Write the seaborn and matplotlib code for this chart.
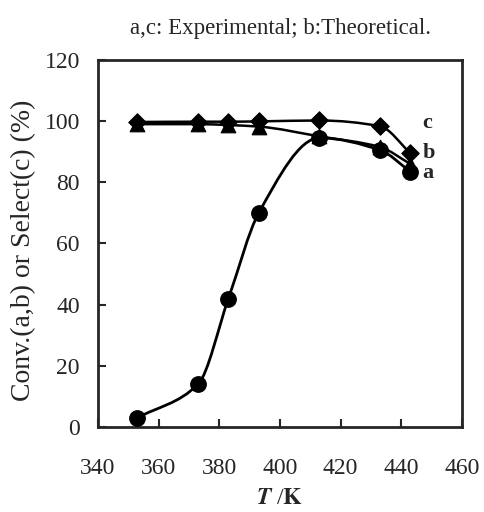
import numpy as np
import matplotlib
matplotlib.use("Agg")
import matplotlib.pyplot as plt
from matplotlib.path import Path
from matplotlib.patches import PathPatch
import seaborn as sns

# data
temp = [353, 373, 383, 393, 413, 433, 443]
conv_a = [3, 14, 42, 70, 94.5, 90.5, 83.5]      # experimental conversion
conv_b = [99, 99, 98.7, 98.2, 95, 91.5, 86]     # theoretical conversion
select_c = [99.7, 99.8, 99.8, 99.9, 100.2, 98.3, 89.5]  # experimental selectivity

curve_labels = ["a", "b", "c"]
label_x = 447
label_y = [83, 89.5, 99.5]

sns.set_style("ticks")
plt.rcParams['font.family'] = ['Liberation Serif', 'DejaVu Serif']
plt.rcParams['mathtext.fontset'] = 'stix'


def smooth_path(x, y):
    # smoothed line, monotone cubic (no overshoot) drawn as bezier segments
    x = np.asarray(x, float)
    y = np.asarray(y, float)
    h = np.diff(x)
    d = np.diff(y) / h
    m = np.zeros_like(y)
    m[0], m[-1] = d[0], d[-1]
    for i in range(1, len(x) - 1):
        if d[i - 1] * d[i] > 0:
            w1 = 2 * h[i] + h[i - 1]
            w2 = h[i] + 2 * h[i - 1]
            m[i] = (w1 + w2) / (w1 / d[i - 1] + w2 / d[i])
    verts = [(x[0], y[0])]
    codes = [Path.MOVETO]
    for i in range(len(x) - 1):
        verts += [(x[i] + h[i] / 3, y[i] + m[i] * h[i] / 3),
                  (x[i + 1] - h[i] / 3, y[i + 1] - m[i + 1] * h[i] / 3),
                  (x[i + 1], y[i + 1])]
        codes += [Path.CURVE4] * 3
    return Path(verts, codes)


fig = plt.figure(figsize=(4.84, 5.12), dpi=100)
ax = fig.add_axes([0.2025, 0.166, 0.752, 0.717])

for yy, lw in [(conv_b, 1.8), (select_c, 1.8), (conv_a, 2.0)]:
    ax.add_patch(PathPatch(smooth_path(temp, yy), fill=False, edgecolor="black", lw=lw, zorder=2))

sns.scatterplot(x=temp, y=select_c, marker="D", s=80, color="black", edgecolor="black", ax=ax, zorder=3)
sns.scatterplot(x=temp, y=conv_b, marker="^", s=110, color="black", edgecolor="black", ax=ax, zorder=3)
sns.scatterplot(x=temp, y=conv_a, marker="o", s=125, color="black", edgecolor="black", ax=ax, zorder=4)

for lab, yy in zip(curve_labels, label_y):
    ax.text(label_x, yy, lab, fontsize=16, fontweight="bold", ha="left", va="center")

ax.set_xlim(340, 460)
ax.set_ylim(0, 120)
ax.set_xticks(np.arange(340, 461, 20))
ax.set_yticks(np.arange(0, 121, 20))
ax.tick_params(axis="x", direction="in", length=6, width=1.5, pad=22, labelsize=17)
ax.tick_params(axis="y", direction="in", length=6, width=1.5, pad=13, labelsize=17)
for sp in ax.spines.values():
    sp.set_visible(True)
    sp.set_linewidth(2)

ax.set_xlabel(r"$\mathbfit{T}$ /$\mathbf{K}$", fontsize=17)
ax.xaxis.set_label_coords(0.5, -0.165)
ax.set_ylabel("Conv.(a,b) or Select(c) (%)", fontsize=20)
ax.yaxis.set_label_coords(-0.17, 0.48)
fig.text(0.58, 0.945, "a,c: Experimental; b:Theoretical.", ha="center", va="center", fontsize=16.5)

fig.savefig("out.png", dpi=100)
